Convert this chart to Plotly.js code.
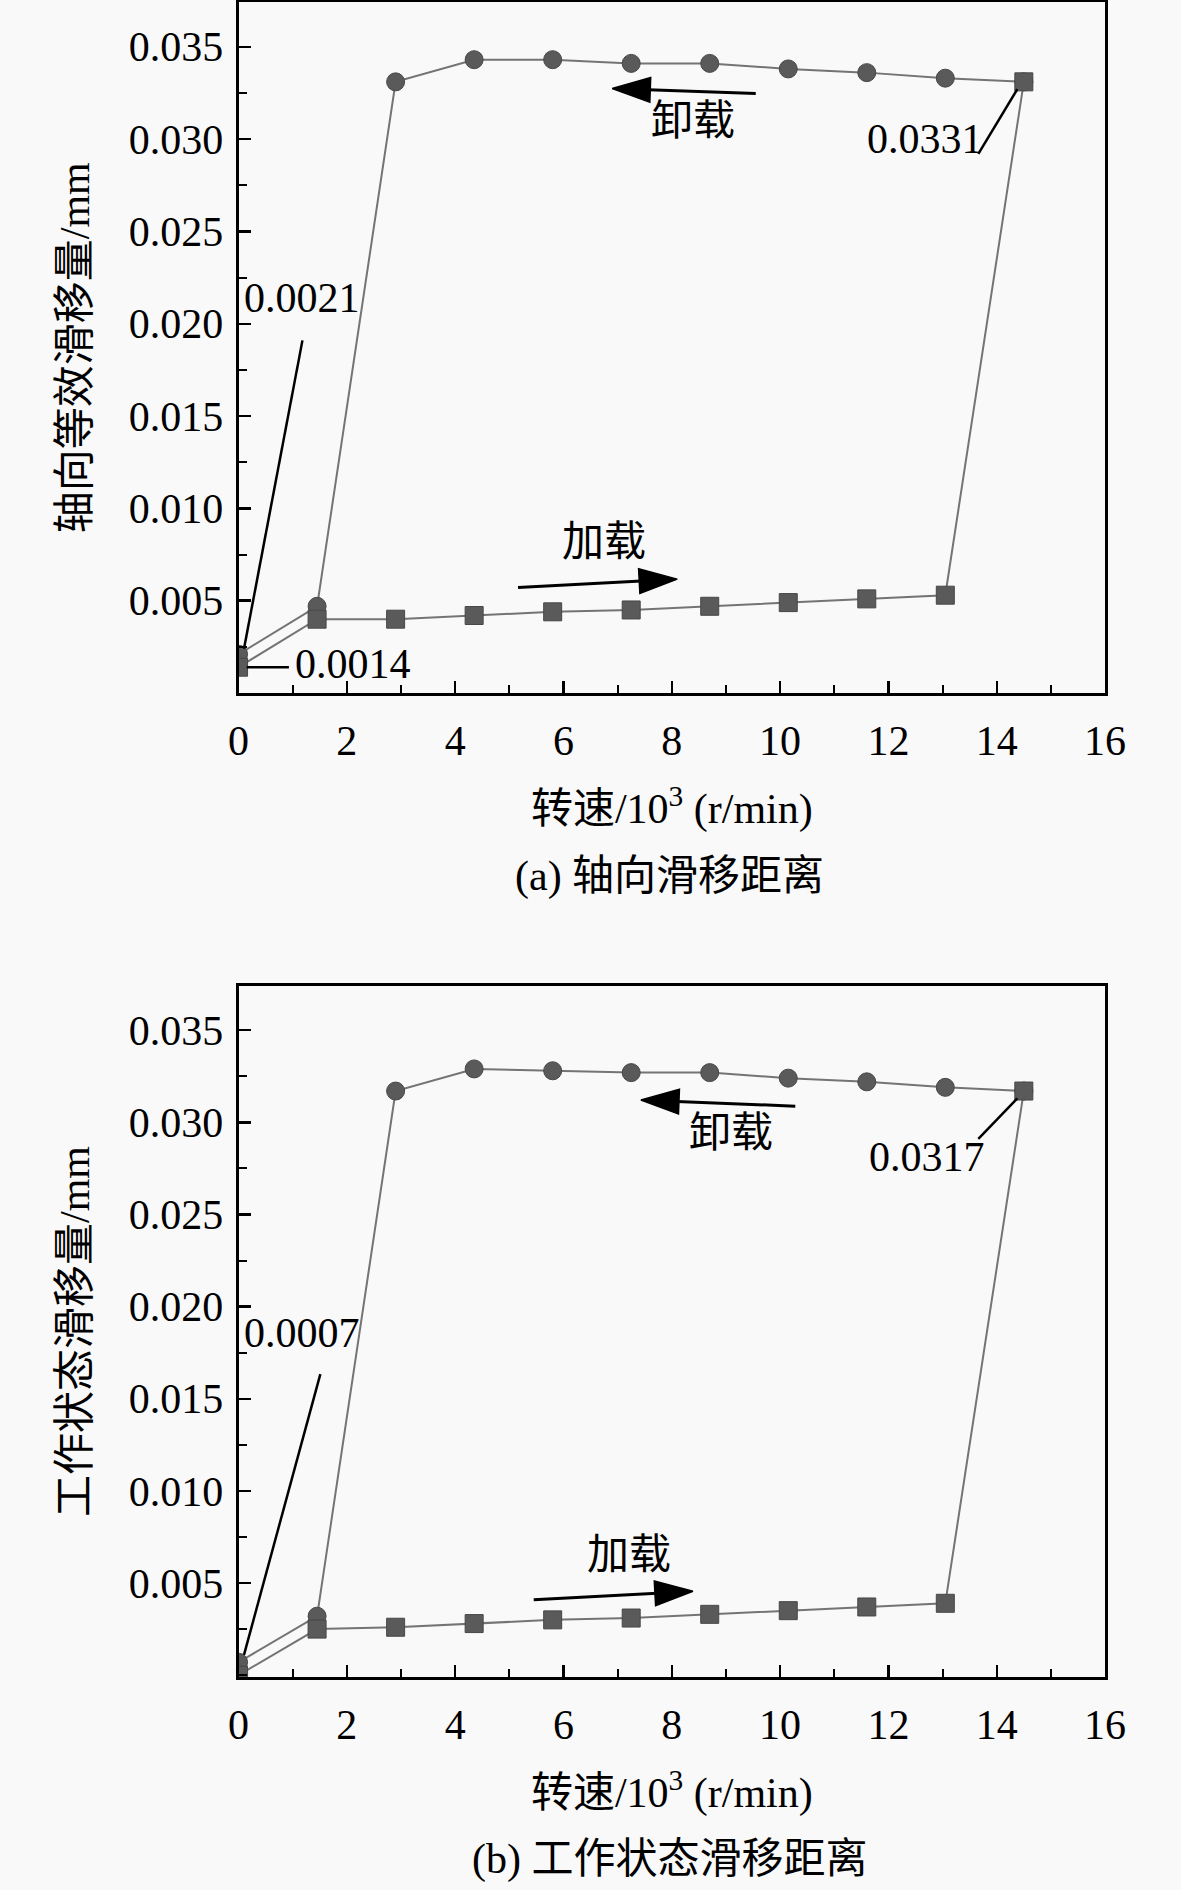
<!DOCTYPE html>
<html>
<head>
<meta charset="utf-8">
<script src="https://cdn.plot.ly/plotly-3.0.1.min.js"></script>
<style>
  html, body { margin: 0; padding: 0; background: #f9f9f9; }
  #plot { width: 1181px; height: 1890px; }
</style>
</head>
<body>
<div id="plot"></div>
<script>
// rotating speed, 10^3 r/min
var speed = [0, 1.45, 2.9, 4.35, 5.8, 7.25, 8.7, 10.15, 11.6, 13.05, 14.5];

// (a) axial equivalent slip, mm
var loadA   = [0.0014, 0.0040, 0.0040, 0.0042, 0.0044, 0.0045, 0.0047, 0.0049, 0.0051, 0.0053, 0.0331];
var unloadA = [0.0021, 0.0047, 0.0331, 0.0343, 0.0343, 0.0341, 0.0341, 0.0338, 0.0336, 0.0333, 0.0331];

// (b) working state slip, mm
var loadB   = [0.0000, 0.0025, 0.0026, 0.0028, 0.0030, 0.0031, 0.0033, 0.0035, 0.0037, 0.0039, 0.0317];
var unloadB = [0.0007, 0.0032, 0.0317, 0.0329, 0.0328, 0.0327, 0.0327, 0.0324, 0.0322, 0.0319, 0.0317];

var yTicks = [0.005, 0.010, 0.015, 0.020, 0.025, 0.030, 0.035];
var xTitle = "转速/10<sup>3</sup> (r/min)";
var yTitleA = "轴向等效滑移量/mm";
var yTitleB = "工作状态滑移量/mm";
var captionA = "(a) 轴向滑移距离";
var captionB = "(b) 工作状态滑移距离";

var FONT = "'Liberation Serif', 'Times New Roman', 'Noto Sans CJK SC', serif";
var FS = 42;

function series(y, sym, xa, ya) {
  return {
    x: speed, y: y, xaxis: xa, yaxis: ya,
    type: "scatter", mode: "lines+markers",
    line: {color: "#747474", width: 2},
    marker: {symbol: sym, size: 18, color: "#5a5a5a", line: {color: "#474747", width: 1}},
    showlegend: false, hoverinfo: "x+y"
  };
}

// direction arrow ("加载" / "卸载"): shaft from tail to head, head marker turned along the shaft
function arrowTrace(xa, ya, tail, head) {
  return {
    x: [tail[0], head[0]], y: [tail[1], head[1]], xaxis: xa, yaxis: ya,
    type: "scatter", mode: "lines+markers",
    line: {color: "#000", width: 3},
    marker: {symbol: ["circle", "arrow"], size: [0, 40], angleref: "previous",
             color: "#000", opacity: 1, line: {color: "#000", width: 1.5}},
    showlegend: false, hoverinfo: "skip"
  };
}

var data = [
  series(unloadA, "circle", "x", "y"),
  series(loadA, "square", "x", "y"),
  series(unloadB, "circle", "x2", "y2"),
  series(loadB, "square", "x2", "y2"),
  arrowTrace("x", "y", [9.55, 0.03247], [6.90, 0.03274]),
  arrowTrace("x", "y", [5.16, 0.00572], [8.10, 0.00617]),
  arrowTrace("x2", "y2", [10.28, 0.03088], [7.43, 0.03121]),
  arrowTrace("x2", "y2", [5.45, 0.00409], [8.39, 0.00455])
];

function xAxis(anchor) {
  return {
    domain: [0.2020, 0.9357], anchor: anchor, range: [0, 16],
    dtick: 2, tick0: 0, ticks: "inside", ticklen: 12, tickwidth: 2.5, tickcolor: "#000",
    minor: {dtick: 1, ticks: "inside", ticklen: 8, tickwidth: 2, tickcolor: "#000"},
    showline: true, mirror: true, linecolor: "#000", linewidth: 3,
    showgrid: false, zeroline: false, ticklabelstandoff: 9,
    tickfont: {family: FONT, size: FS, color: "#000"},
    title: {text: xTitle, font: {family: FONT, size: FS, color: "#000"}, standoff: 31}
  };
}

function yAxis(anchor, dom, title, lo) {
  return {
    domain: dom, anchor: anchor, range: [lo, 0.0374],
    tickmode: "array", tickvals: yTicks, ticktext: yTicks.map(function (v) { return v.toFixed(3); }),
    ticks: "inside", ticklen: 12, tickwidth: 2.5, tickcolor: "#000",
    minor: {dtick: 0.0025, tick0: 0, ticks: "inside", ticklen: 8, tickwidth: 2, tickcolor: "#000"},
    showline: true, mirror: true, linecolor: "#000", linewidth: 3,
    showgrid: false, zeroline: false, ticklabelstandoff: 4,
    tickfont: {family: FONT, size: FS, color: "#000"},
    title: {text: title, font: {family: FONT, size: FS, color: "#000"}, standoff: 26}
  };
}

function label(xr, yr, x, y, text, anchor) {
  return {xref: xr, yref: yr, x: x, y: y, text: text, showarrow: false,
          xanchor: anchor || "center", yanchor: "middle",
          font: {family: FONT, size: FS, color: "#000"}};
}

// leader line drawn as a shape, from (x0, y0) to the data point (x1, y1)
function leader(xr, yr, x0, y0, x1, y1) {
  return {type: "line", xref: xr, yref: yr, x0: x0, y0: y0, x1: x1, y1: y1,
          line: {color: "#000", width: 2.5}};
}

var n = speed.length - 1;
var annotations = [
  // panel (a)
  label("x", "y", 0.06, 0.0214, unloadA[0].toFixed(4), "left"),
  label("x", "y", 1.0, 0.0016, loadA[0].toFixed(4), "left"),
  label("x", "y", 11.57, 0.0300, unloadA[n].toFixed(4), "left"),
  label("x", "y", 8.39, 0.0310, "卸载"),
  label("x", "y", 6.75, 0.0082, "加载"),
  // panel (b)
  label("x2", "y2", 0.06, 0.01857, unloadB[0].toFixed(4), "left"),
  label("x2", "y2", 11.6, 0.02813, unloadB[n].toFixed(4), "left"),
  label("x2", "y2", 9.10, 0.02944, "卸载"),
  label("x2", "y2", 7.21, 0.00652, "加载"),
  // captions
  label("paper", "paper", 0.567, 0.5365, captionA),
  label("paper", "paper", 0.567, 0.0159, captionB)
];

var shapes = [
  leader("x", "y", 1.18, 0.0191, speed[0] + 0.1, unloadA[0] + 0.0003),
  leader("x", "y", 0.93, loadA[0], speed[0] + 0.15, loadA[0]),
  leader("x", "y", 13.66, 0.0292, speed[n] - 0.12, unloadA[n] - 0.0004),
  leader("x2", "y2", 1.51, 0.01634, speed[0] + 0.1, unloadB[0] + 0.0004),
  leader("x2", "y2", 13.66, 0.02911, speed[n] - 0.12, unloadB[n] - 0.0004)
];

var layout = {
  width: 1181, height: 1890,
  margin: {l: 0, r: 0, t: 0, b: 0},
  paper_bgcolor: "#f9f9f9", plot_bgcolor: "#f9f9f9",
  font: {family: FONT, size: FS, color: "#000"},
  xaxis: xAxis("y"),
  yaxis: yAxis("x", [0.6333, 0.9987], yTitleA, 0),
  xaxis2: xAxis("y2"),
  yaxis2: yAxis("x2", [0.1127, 0.4783], yTitleB, -0.0001),
  annotations: annotations,
  shapes: shapes
};

Plotly.newPlot("plot", data, layout, {staticPlot: true});
</script>
</body>
</html>
